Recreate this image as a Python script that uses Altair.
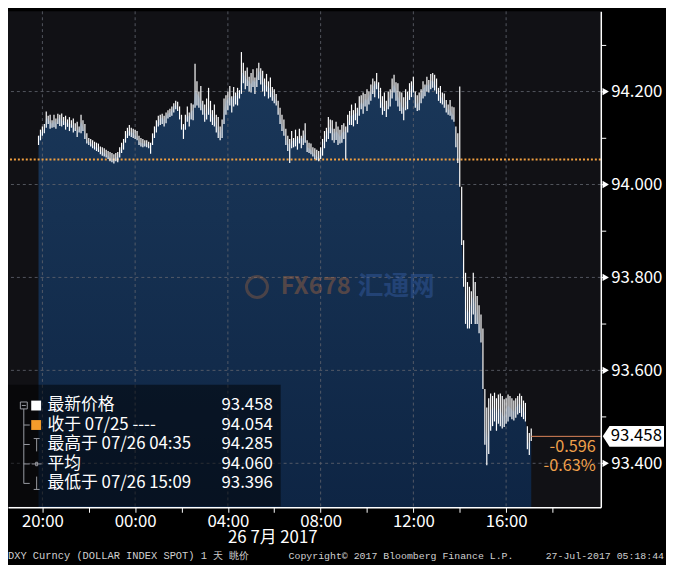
import altair as alt
import pandas as pd

# ---------------- data ----------------
high = [
94.105, 94.118, 94.125, 94.130, 94.157, 94.148, 94.150, 94.138, 94.150, 94.142,
94.152, 94.150, 94.153, 94.145, 94.148, 94.140, 94.145, 94.138, 94.142, 94.132,
94.135, 94.125, 94.150, 94.138, 94.130, 94.110, 94.100, 94.098, 94.095, 94.092,
94.090, 94.088, 94.082, 94.080, 94.078, 94.075, 94.072, 94.070, 94.068, 94.065,
94.068, 94.070, 94.080, 94.090, 94.098, 94.115, 94.122, 94.128, 94.122, 94.120,
94.118, 94.115, 94.105, 94.100, 94.098, 94.095, 94.095, 94.092, 94.090, 94.110,
94.125, 94.138, 94.148, 94.150, 94.152, 94.148, 94.155, 94.160, 94.163, 94.168,
94.175, 94.180, 94.178, 94.168, 94.150, 94.130, 94.150, 94.168, 94.155, 94.175,
94.172, 94.260, 94.222, 94.200, 94.212, 94.180, 94.172, 94.185, 94.208, 94.180,
94.160, 94.172, 94.150, 94.145, 94.125, 94.140, 94.185, 94.192, 94.200, 94.212,
94.190, 94.210, 94.198, 94.208, 94.203, 94.285, 94.262, 94.245, 94.252, 94.232,
94.240, 94.248, 94.230, 94.250, 94.262, 94.250, 94.245, 94.228, 94.238, 94.222,
94.230, 94.210, 94.205, 94.195, 94.180, 94.165, 94.150, 94.140, 94.120, 94.105,
94.098, 94.115, 94.100, 94.118, 94.104, 94.120, 94.105, 94.116, 94.132, 94.095,
94.090, 94.088, 94.080, 94.078, 94.075, 94.072, 94.080, 94.098, 94.115, 94.122,
94.145, 94.140, 94.138, 94.120, 94.135, 94.125, 94.118, 94.128, 94.132, 94.125,
94.150, 94.158, 94.172, 94.160, 94.175, 94.165, 94.190, 94.192, 94.198, 94.195,
94.205, 94.200, 94.215, 94.228, 94.222, 94.240, 94.220, 94.208, 94.190, 94.198,
94.180, 94.200, 94.205, 94.228, 94.236, 94.220, 94.218, 94.200, 94.198, 94.188,
94.205, 94.200, 94.218, 94.222, 94.232, 94.200, 94.192, 94.198, 94.205, 94.222,
94.215, 94.232, 94.225, 94.238, 94.240, 94.236, 94.228, 94.208, 94.212, 94.198,
94.196, 94.182, 94.172, 94.182, 94.168, 94.166, 94.125, 94.110, 94.211, 93.995,
93.880, 93.810, 93.790, 93.780, 93.770, 93.810, 93.790, 93.760, 93.740, 93.720,
93.690, 93.560, 93.520, 93.540, 93.550, 93.545, 93.552, 93.540, 93.548, 93.550,
93.545, 93.538, 93.540, 93.548, 93.545, 93.540, 93.535, 93.540, 93.545, 93.550,
93.545, 93.535, 93.530, 93.480, 93.465, 93.475,
]
low = [
94.085, 94.095, 94.105, 94.110, 94.122, 94.130, 94.120, 94.122, 94.123, 94.120,
94.130, 94.126, 94.125, 94.128, 94.118, 94.124, 94.115, 94.122, 94.112, 94.115,
94.102, 94.112, 94.110, 94.115, 94.098, 94.088, 94.085, 94.082, 94.078, 94.075,
94.072, 94.070, 94.065, 94.062, 94.060, 94.058, 94.055, 94.050, 94.048, 94.045,
94.050, 94.048, 94.058, 94.068, 94.075, 94.090, 94.100, 94.105, 94.102, 94.100,
94.098, 94.095, 94.085, 94.082, 94.080, 94.082, 94.080, 94.078, 94.066, 94.085,
94.100, 94.112, 94.125, 94.128, 94.130, 94.125, 94.132, 94.142, 94.145, 94.148,
94.155, 94.162, 94.158, 94.140, 94.118, 94.098, 94.118, 94.135, 94.125, 94.140,
94.138, 94.165, 94.170, 94.165, 94.160, 94.150, 94.135, 94.140, 94.150, 94.135,
94.128, 94.125, 94.112, 94.100, 94.095, 94.100, 94.130, 94.150, 94.160, 94.170,
94.155, 94.168, 94.172, 94.170, 94.185, 94.195, 94.218, 94.205, 94.212, 94.200,
94.198, 94.210, 94.195, 94.210, 94.225, 94.215, 94.200, 94.190, 94.200, 94.185,
94.188, 94.180, 94.175, 94.170, 94.150, 94.130, 94.115, 94.105, 94.085, 94.072,
94.046, 94.078, 94.080, 94.082, 94.075, 94.088, 94.078, 94.085, 94.090, 94.070,
94.068, 94.065, 94.060, 94.055, 94.052, 94.050, 94.055, 94.062, 94.078, 94.092,
94.098, 94.110, 94.095, 94.090, 94.096, 94.085, 94.088, 94.090, 94.098, 94.053,
94.112, 94.128, 94.128, 94.125, 94.138, 94.130, 94.148, 94.162, 94.152, 94.168,
94.158, 94.172, 94.180, 94.195, 94.188, 94.205, 94.185, 94.165, 94.150, 94.158,
94.145, 94.162, 94.168, 94.185, 94.198, 94.180, 94.168, 94.158, 94.152, 94.138,
94.160, 94.162, 94.182, 94.188, 94.198, 94.165, 94.158, 94.160, 94.175, 94.185,
94.190, 94.200, 94.198, 94.205, 94.208, 94.202, 94.195, 94.180, 94.175, 94.172,
94.165, 94.155, 94.150, 94.148, 94.140, 94.135, 94.080, 94.046, 93.995, 93.870,
93.780, 93.700, 93.690, 93.690, 93.700, 93.720, 93.700, 93.700, 93.680, 93.660,
93.560, 93.440, 93.396, 93.420, 93.470, 93.480, 93.490, 93.470, 93.485, 93.480,
93.475, 93.478, 93.485, 93.490, 93.500, 93.495, 93.492, 93.498, 93.505, 93.508,
93.500, 93.495, 93.490, 93.430, 93.418, 93.448,
]
close = [
94.100, 94.110, 94.115, 94.120, 94.145, 94.140, 94.135, 94.130, 94.138, 94.130,
94.140, 94.145, 94.135, 94.140, 94.132, 94.135, 94.128, 94.132, 94.125, 94.120,
94.115, 94.120, 94.135, 94.125, 94.110, 94.095, 94.092, 94.090, 94.085, 94.082,
94.080, 94.078, 94.072, 94.070, 94.068, 94.065, 94.062, 94.058, 94.055, 94.052,
94.058, 94.060, 94.072, 94.082, 94.090, 94.105, 94.112, 94.118, 94.110, 94.112,
94.105, 94.102, 94.092, 94.090, 94.088, 94.088, 94.088, 94.085, 94.082, 94.100,
94.115, 94.128, 94.140, 94.140, 94.145, 94.138, 94.148, 94.152, 94.155, 94.160,
94.168, 94.172, 94.165, 94.150, 94.128, 94.115, 94.140, 94.150, 94.145, 94.158,
94.160, 94.205, 94.195, 94.190, 94.178, 94.168, 94.155, 94.150, 94.175, 94.155,
94.148, 94.142, 94.130, 94.120, 94.110, 94.125, 94.160, 94.180, 94.185, 94.190,
94.180, 94.192, 94.188, 94.195, 94.200, 94.240, 94.240, 94.230, 94.225, 94.222,
94.215, 94.225, 94.220, 94.230, 94.245, 94.240, 94.225, 94.215, 94.212, 94.210,
94.205, 94.195, 94.188, 94.180, 94.162, 94.145, 94.128, 94.118, 94.100, 94.088,
94.085, 94.095, 94.092, 94.100, 94.095, 94.102, 94.098, 94.100, 94.110, 94.080,
94.078, 94.075, 94.068, 94.065, 94.060, 94.058, 94.068, 94.085, 94.098, 94.110,
94.120, 94.125, 94.118, 94.108, 94.115, 94.110, 94.102, 94.110, 94.115, 94.110,
94.130, 94.145, 94.150, 94.148, 94.155, 94.152, 94.168, 94.178, 94.172, 94.185,
94.180, 94.190, 94.200, 94.210, 94.215, 94.220, 94.205, 94.185, 94.170, 94.165,
94.160, 94.180, 94.190, 94.205, 94.215, 94.205, 94.190, 94.180, 94.170, 94.160,
94.175, 94.185, 94.200, 94.210, 94.215, 94.180, 94.170, 94.178, 94.195, 94.205,
94.210, 94.215, 94.212, 94.222, 94.225, 94.218, 94.208, 94.195, 94.190, 94.185,
94.178, 94.168, 94.160, 94.162, 94.152, 94.148, 94.100, 94.070, 94.000, 93.880,
93.800, 93.740, 93.720, 93.730, 93.750, 93.760, 93.740, 93.720, 93.700, 93.680,
93.580, 93.480, 93.450, 93.480, 93.520, 93.510, 93.530, 93.500, 93.520, 93.515,
93.505, 93.500, 93.515, 93.525, 93.520, 93.515, 93.510, 93.520, 93.525, 93.530,
93.522, 93.515, 93.505, 93.450, 93.440, 93.458,
]
start_time = "2017-07-25 19:50"          # first 5-minute bar
prev_close = 94.054
last_price = 93.458
change_texts = ["-0.596", "-0.63%"]
major_prices = [93.4, 93.6, 93.8, 94.0, 94.2]
tick_prices = [93.4, 93.5, 93.6, 93.7, 93.8, 93.9, 94.0, 94.1, 94.2, 94.3]
legend_labels = ["最新价格", "收于 07/25 ----", "最高于 07/26 04:35", "平均", "最低于 07/26 15:09"]
legend_values = ["93.458", "94.054", "94.285", "94.060", "93.396"]
date_label = "26 7月 2017"
footer_left = "DXY Curncy (DOLLAR INDEX SPOT) 1 天  眺价"
footer_mid = "Copyright\u00a9 2017 Bloomberg Finance L.P."
footer_right = "27-Jul-2017 05:18:44"

# ---------------- layout / style ----------------
W, H = 600, 502
Y_LO, Y_HI = 93.3053, 94.3726
FONT = "Noto Sans CJK SC"
MONO = "Liberation Mono"
ROW0, ROW_STEP = 399, 19.7


def dt(d, h, m=0):
    return alt.DateTime(year=2017, month=7, date=d, hours=h, minutes=m)


times = pd.date_range(start_time, periods=len(high), freq="5min").strftime("%Y-%m-%dT%H:%M:%S").tolist()
df = pd.DataFrame({"t": times, "high": high, "low": low, "close": close})

tick_times = [dt(25, 20), dt(25, 22)] + [dt(26, h) for h in range(0, 20, 2)]
grid_times = ["2017-07-25T20:00:00"] + ["2017-07-26T%02d:00:00" % h for h in (0, 4, 8, 12, 16)]

x_scale = alt.Scale(domain=[dt(25, 18, 31), dt(26, 20, 5)])
y_scale = alt.Scale(domain=[Y_LO, Y_HI], zero=False, nice=False)

x_axis = alt.Axis(
    values=tick_times,
    labelExpr="hours(datum.value) % 4 == 0 ? timeFormat(datum.value, '%H:%M') : ''",
    tickColor="white", tickSize=5, tickWidth=1,
    domainColor="white", domainWidth=1.5,
    labelColor="white", labelFont=FONT, labelFontSize=17, labelPadding=1,
    grid=False, title=None, zindex=1, labelOverlap=False, labelFlush=False,
)
y_axis = alt.Axis(
    orient="right",
    values=tick_prices,
    labelExpr="round(datum.value*10) % 2 == 0 ? format(datum.value, '.3f') : ''",
    tickColor="white", tickSize=5, tickWidth=1,
    domainColor="white", domainWidth=1.5,
    labelColor="white", labelFont=FONT, labelFontSize=17, labelPadding=5,
    labelBaseline="middle",
    grid=False, title=None, zindex=1, labelOverlap=False, labelFlush=False,
)

one = pd.DataFrame({"a": [0]})
gradient = alt.Gradient(
    gradient="linear",
    stops=[alt.GradientStop(color="#1a3759", offset=0), alt.GradientStop(color="#0e2544", offset=1)],
    x1=1, x2=1, y1=0, y2=1,
)

area = alt.Chart(df).mark_area(color=gradient, interpolate="linear").encode(
    x=alt.X("t:T", scale=x_scale, axis=x_axis),
    y=alt.Y("close:Q", scale=y_scale, axis=y_axis),
    y2=alt.Y2(datum=Y_LO),
)

grid_x = alt.Chart(pd.DataFrame({"t": grid_times})).mark_rule(
    color="#5f626c", strokeDash=[3, 3], strokeWidth=1, opacity=0.85
).encode(x="t:T")
grid_y = alt.Chart(pd.DataFrame({"v": major_prices})).mark_rule(
    color="#5f626c", strokeDash=[3, 3], strokeWidth=1, opacity=0.85
).encode(y="v:Q")

prev_line = alt.Chart(pd.DataFrame({"v": [prev_close]})).mark_rule(
    color="#f2a040", strokeDash=[2, 2], strokeWidth=2
).encode(y="v:Q")

bars = alt.Chart(df).mark_rule(color="white", strokeWidth=1.2).encode(
    x="t:T", y="low:Q", y2="high:Q"
)

last_df = pd.DataFrame({"t": [times[-1]], "v": [last_price], "label": ["%.3f" % last_price]})
last_line = alt.Chart(last_df).mark_rule(color="#e0875a", strokeWidth=1).encode(
    x="t:T", x2=alt.value(W), y="v:Q"
)

triangles = alt.Chart(pd.DataFrame({"v": major_prices})).mark_point(
    shape="triangle-right", filled=True, color="white", size=55, opacity=1
).encode(x=alt.value(W + 5), y="v:Q")

tag = alt.Chart(last_df).mark_point(
    shape="M -1 0 L -0.78 -0.34 L 1 -0.34 L 1 0.34 L -0.78 0.34 Z",
    filled=True, color="white", size=3844, opacity=1,
).encode(x=alt.value(W + 33), y="v:Q")
tag_text = alt.Chart(last_df).mark_text(
    color="black", font=FONT, fontSize=17, align="center", baseline="middle"
).encode(x=alt.value(W + 36), y="v:Q", text="label:N")

change_layers = [
    alt.Chart(one).mark_text(
        text=txt, color="#f0a04b", font=FONT, fontSize=16.5, align="right", baseline="middle"
    ).encode(x=alt.value(595), y=alt.value(441 + 19.7 * k))
    for k, txt in enumerate(change_texts)
]

legend_bg = alt.Chart(one).mark_rect(color="black", opacity=0.5).encode(
    x=alt.value(0), x2=alt.value(276), y=alt.value(378), y2=alt.value(H - 1)
)
tree_path = (
    "M -0.07 -0.86 L 0.07 -0.86 L 0.07 -0.72 L -0.07 -0.72 Z "
    "M -0.04 -0.79 L 0.04 -0.79 "
    "M 0 -0.72 L 0 0.79 "
    "M 0 -0.394 L 0.12 -0.394 M 0 0 L 0.12 0 M 0 0.394 L 0.12 0.394 M 0 0.788 L 0.12 0.788 "
    "M 0.2 -0.12 L 0.32 -0.12 M 0.26 -0.12 L 0.26 0.14 "
    "M 0.16 0.394 L 0.36 0.394 M 0.24 0.36 L 0.28 0.36 L 0.28 0.43 L 0.24 0.43 Z "
    "M 0.26 0.65 L 0.26 0.91 M 0.2 0.91 L 0.32 0.91"
)
tree = alt.Chart(one).mark_point(
    shape=tree_path, filled=False, color="#9a9ca4", strokeWidth=1, size=10000, opacity=1
).encode(x=alt.value(16), y=alt.value(ROW0 + 2 * ROW_STEP))
sq_white = alt.Chart(one).mark_square(color="white", size=100, opacity=1).encode(
    x=alt.value(28.5), y=alt.value(ROW0)
)
sq_orange = alt.Chart(one).mark_square(color="#f39c2b", size=100, opacity=1).encode(
    x=alt.value(28.5), y=alt.value(ROW0 + ROW_STEP)
)
legend_layers = []
for k, (lab, val) in enumerate(zip(legend_labels, legend_values)):
    yk = ROW0 + ROW_STEP * k
    legend_layers.append(
        alt.Chart(one).mark_text(
            text=lab, color="white", font=FONT, fontSize=17, align="left", baseline="middle"
        ).encode(x=alt.value(40), y=alt.value(yk))
    )
    legend_layers.append(
        alt.Chart(one).mark_text(
            text=val, color="white", font=FONT, fontSize=17, align="right", baseline="middle"
        ).encode(x=alt.value(268), y=alt.value(yk))
    )

wm_ring = alt.Chart(one).mark_point(
    shape="circle", filled=False, color="#c8743c", strokeWidth=3, size=450, opacity=0.3
).encode(x=alt.value(252), y=alt.value(279))
wm_fx = alt.Chart(one).mark_text(
    text="FX678", color="#c8743c", font=FONT, fontSize=24, fontWeight="bold",
    align="left", baseline="middle", opacity=0.35,
).encode(x=alt.value(276), y=alt.value(279))
wm_cn = alt.Chart(one).mark_text(
    text="汇通网", color="#3a64b0", font=FONT, fontSize=26, fontWeight="bold",
    align="left", baseline="middle", opacity=0.4,
).encode(x=alt.value(354), y=alt.value(279))

date_text = alt.Chart(one).mark_text(
    text=date_label, color="white", font=FONT, fontSize=17, align="center", baseline="middle"
).encode(x=alt.value(268), y=alt.value(533))
foot1 = alt.Chart(one).mark_text(
    text=footer_left, color="#d0d0d0", font=MONO, fontSize=10.5, align="left", baseline="middle"
).encode(x=alt.value(0), y=alt.value(551))
foot2 = alt.Chart(one).mark_text(
    text=footer_mid, color="#d0d0d0", font=MONO, fontSize=10, align="left", baseline="middle"
).encode(x=alt.value(284), y=alt.value(551))
foot3 = alt.Chart(one).mark_text(
    text=footer_right, color="#d0d0d0", font=MONO, fontSize=10, align="right", baseline="middle"
).encode(x=alt.value(664), y=alt.value(551))

chart = alt.layer(
    area, grid_x, grid_y, prev_line, bars, last_line,
    wm_ring, wm_fx, wm_cn,
    legend_bg, tree, sq_white, sq_orange, *legend_layers,
    triangles, tag, tag_text, *change_layers, date_text, foot1, foot2, foot3,
).properties(
    width=W, height=H,
    autosize="none",
    padding={"left": 0, "top": 0, "right": 66, "bottom": 55},
    background="#000000",
).configure_view(fill="#111115", stroke=None)

chart.save("out.html", embed_options={"renderer": "svg", "actions": False})
